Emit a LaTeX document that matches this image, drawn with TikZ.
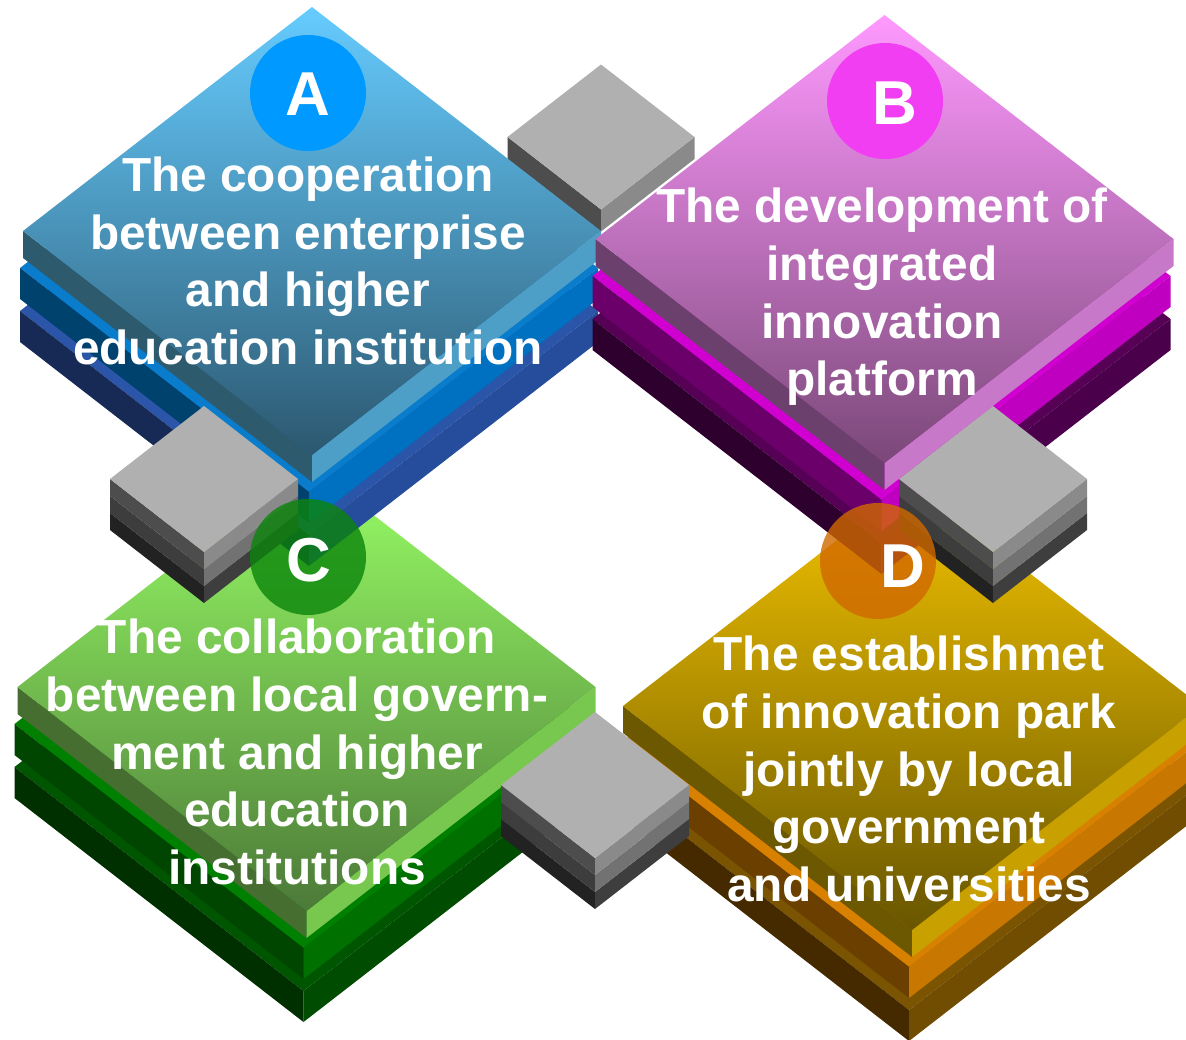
\documentclass[tikz,border=0pt]{standalone}
\usepackage{fontspec}
\setmainfont{Liberation Sans}
\definecolor{At1}{HTML}{66CCFF}\definecolor{At2}{HTML}{2C5870}
\definecolor{Al}{HTML}{2E5A6E}\definecolor{Ar}{HTML}{4E9FC8}
\definecolor{Amt}{HTML}{0A7CCC}\definecolor{Aml}{HTML}{00426E}\definecolor{Amr}{HTML}{0070C0}
\definecolor{Abt}{HTML}{2A55A8}\definecolor{Abl}{HTML}{172A55}\definecolor{Abr}{HTML}{264D9B}
\definecolor{Bt1}{HTML}{FF99FF}\definecolor{Bt2}{HTML}{7A4878}
\definecolor{Bl}{HTML}{6C406C}\definecolor{Br}{HTML}{C878C8}
\definecolor{Bmt}{HTML}{D000D0}\definecolor{Bml}{HTML}{6B006B}\definecolor{Bmr}{HTML}{C000C0}
\definecolor{Bbt}{HTML}{560056}\definecolor{Bbl}{HTML}{2E002E}\definecolor{Bbr}{HTML}{4B004B}
\definecolor{Ct1}{HTML}{99FF66}\definecolor{Ct2}{HTML}{4C7A38}
\definecolor{Cl}{HTML}{456E30}\definecolor{Cr}{HTML}{78C850}
\definecolor{Cmt}{HTML}{008000}\definecolor{Cml}{HTML}{004600}\definecolor{Cmr}{HTML}{007000}
\definecolor{Cbt}{HTML}{005600}\definecolor{Cbl}{HTML}{002F00}\definecolor{Cbr}{HTML}{004C00}
\definecolor{Dt1}{HTML}{F5C400}\definecolor{Dt2}{HTML}{685600}
\definecolor{Dl}{HTML}{6B5800}\definecolor{Dr}{HTML}{C8A000}
\definecolor{Dmt}{HTML}{D88000}\definecolor{Dml}{HTML}{6B3F00}\definecolor{Dmr}{HTML}{C87800}
\definecolor{Dbt}{HTML}{7A5400}\definecolor{Dbl}{HTML}{452A00}\definecolor{Dbr}{HTML}{704D00}
\definecolor{gt}{HTML}{B0B0B0}
\definecolor{gal}{HTML}{4D4D4D}\definecolor{gar}{HTML}{8A8A8A}
\definecolor{gbl}{HTML}{3D3D3D}\definecolor{gbr}{HTML}{727272}
\definecolor{gcl}{HTML}{222222}\definecolor{gcr}{HTML}{3E3E3E}
\definecolor{cAc}{HTML}{0099FF}\definecolor{cBc}{HTML}{F23EF2}
\definecolor{cCc}{HTML}{0A850A}\definecolor{cDc}{HTML}{D06800}
% side faces: cx cy hw hh t leftcolor rightcolor
\newcommand{\sideq}[7]{%
  \fill[#6] ({(#1)-(#3)},{#2}) -- ({#1},{(#2)+(#4)}) -- ({#1},{(#2)+(#4)+(#5)}) -- ({(#1)-(#3)},{(#2)+(#5)}) -- cycle;
  \fill[#7] ({#1},{(#2)+(#4)}) -- ({(#1)+(#3)},{#2}) -- ({(#1)+(#3)},{(#2)+(#5)}) -- ({#1},{(#2)+(#4)+(#5)}) -- cycle;}
% top face: cx cy hw hh options
\newcommand{\topq}[5]{%
  \path[#5] ({#1},{(#2)-(#4)}) -- ({(#1)+(#3)},{#2}) -- ({#1},{(#2)+(#4)}) -- ({(#1)-(#3)},{#2}) -- cycle;}
% three layer slab stack: cx cy prefix
\newcommand{\isostack}[3]{%
  \topq{#1-3}{#2+80}{289}{224}{fill=#3bt}
  \sideq{#1-3}{#2+80}{289}{224}{31}{#3bl}{#3br}
  \topq{#1-3}{#2+37}{289}{224}{fill=#3mt}
  \sideq{#1-3}{#2+37}{289}{224}{31}{#3ml}{#3mr}
  \sideq{#1}{#2}{289}{224}{27}{#3l}{#3r}
  \topq{#1}{#2}{289}{224}{top color=#3t1, bottom color=#3t2}}
% three layer grey block: cx cy
\newcommand{\greyblock}[2]{%
  \sideq{#1}{#2+34}{94}{73}{17}{gcl}{gcr}
  \sideq{#1}{#2+17}{94}{73}{17}{gbl}{gbr}
  \sideq{#1}{#2}{94}{73}{17}{gal}{gar}
  \topq{#1}{#2}{94}{73}{fill=gt}}
\begin{document}
\begin{tikzpicture}[x=1pt,y=-1pt,
  txt/.style={text=white, inner sep=0, align=center,
    font=\fontsize{47.8}{57.7}\selectfont\bfseries},
  badge/.style={circle, minimum size=116, inner sep=0},
  lett/.style={text=white, inner sep=0, font=\fontsize{62}{62}\selectfont\bfseries}]
\useasboundingbox (0,0) rectangle (1186,1039);
\clip (0,0) rectangle (1186,1039);
% top connector block (behind A and B)
\sideq{601}{137}{93.5}{72.5}{22}{gal}{gar}
\topq{601}{137}{93.5}{72.5}{fill=gt}
% front stacks first, back stacks over them
\isostack{306.5}{687}{C}
\isostack{912}{706}{D}
\isostack{312}{231}{A}
\isostack{884.5}{239}{B}
% connector blocks
\greyblock{204}{479}
\greyblock{993}{479}
\greyblock{595}{785}
% badges
\node[badge, fill=cAc] (cA) at (308,93) {};
\node[badge, fill=cBc] (cB) at (885,101) {};
\node[badge, fill=cCc, fill opacity=0.8] (cC) at (308,557) {};
\node[badge, fill=cDc, fill opacity=0.8] (cD) at (878,561) {};
\node[lett] (lA) at (308,94) {A};
\node[lett] (lB) at (895,103) {B};
\node[lett] (lC) at (309,560) {C};
\node[lett] (lD) at (903,566) {D};
% texts
\node[txt] (tA) at (308,261) {The cooperation\\between enterprise\\and higher\\education institution};
\node[txt] (tB) at (882,297) {The development of\\integrated\\innovation\\platform};
\node[txt] (tC) at (297,752) {The collaboration\\between local govern-\\ment and higher\\education\\institutions};
\node[txt] (tD) at (909,769) {The establishmet\\of innovation park\\jointly by local\\government\\and universities};
\end{tikzpicture}
\end{document}
